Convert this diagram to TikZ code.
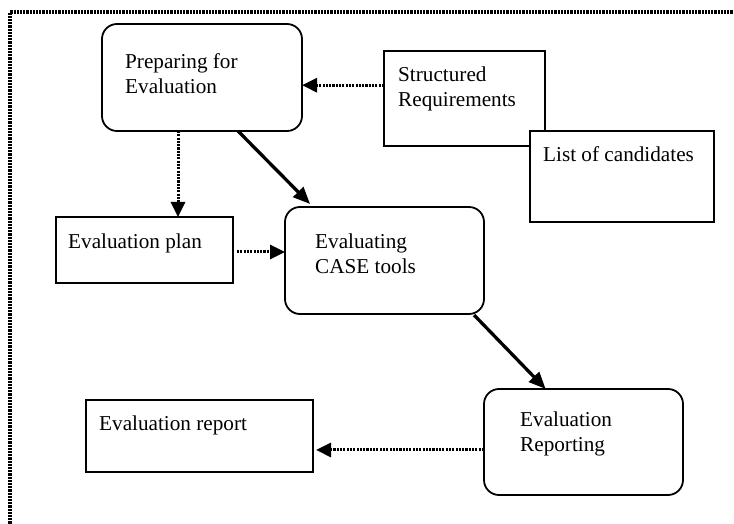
\documentclass[tikz,border=0pt]{standalone}
\usepackage{fontspec}
\setmainfont{Liberation Serif}
\usetikzlibrary{arrows.meta,calc}
\begin{document}
\begin{tikzpicture}[x=1pt,y=-1pt,
  box/.style={draw=black,line width=1.8pt,fill=white,inner sep=0pt,outer sep=0pt,rectangle},
  rbox/.style={box,rounded corners=15pt},
  txt/.style={anchor=base west,inner sep=0pt,align=left,font=\fontsize{21.2}{25}\selectfont},
  dotline/.style={line width=3pt,dash pattern=on 2.1pt off 1.2pt},
  dotarrow/.style={dotline,-{Triangle[length=15pt,width=14pt]}},
  thickarrow/.style={line width=3.3pt,-{Triangle[length=17pt,width=14pt]}},
  frame/.style={line width=3.2pt,dash pattern=on 2.2pt off 1pt}
]
\useasboundingbox (0,0) rectangle (734,524);
\fill[white] (0,0) rectangle (734,524);
% frame
\coordinate (fbl) at (10,530);
\coordinate (ftl) at (10,12);
\coordinate (ftr) at (740,12);
\draw[frame] (fbl) -- (ftl) -- (ftr);
% boxes
\node[rbox,minimum width=200pt,minimum height=107pt] (prep) at (202,77.5) {};
\node[box,minimum width=161pt,minimum height=95pt] (struct) at (464.5,98.5) {};
\node[box,minimum width=184pt,minimum height=91pt] (list) at (622,176.5) {};
\node[box,minimum width=177pt,minimum height=66pt] (plan) at (144.5,250) {};
\node[rbox,minimum width=199pt,minimum height=107pt] (eval) at (384.5,260.5) {};
\node[rbox,minimum width=199pt,minimum height=106pt] (rep) at (583.5,442) {};
\node[box,minimum width=227pt,minimum height=72pt] (report) at (199.5,436) {};
% texts (base anchor = baseline of last line)
\node[txt] (prept) at (125,94) {Preparing for\\Evaluation};
\node[txt] (structt) at (398,107) {Structured\\Requirements};
\node[txt] (listt) at (543,162) {List of candidates};
\node[txt] (plant) at (68,248) {Evaluation plan};
\node[txt] (evalt) at (315,273) {Evaluating\\CASE tools};
\node[txt] (rept) at (520,451) {Evaluation\\Reporting};
\node[txt] (reportt) at (99,430) {Evaluation report};
% connectors
\coordinate (a1) at ($(struct.north west)!0.36!(struct.south west)$);
\draw[dotarrow] (a1) -- (prep.east |- a1);
\coordinate (a2) at ($(prep.south west)!0.38!(prep.south east)$);
\draw[dotarrow] (a2) -- (plan.north -| a2);
\coordinate (a3) at ($(prep.south west)!0.68!(prep.south east)$);
\coordinate (a3e) at ($(eval.north west)!0.126!(eval.north east)$);
\draw[thickarrow] (a3) -- ($(a3e)+(0,-3)$);
\coordinate (a4) at ($(plan.north east)!0.53!(plan.south east)$);
\draw[dotarrow] ($(a4)+(4,0)$) -- (eval.west |- a4);
\coordinate (a5) at ($(eval.south west)!0.95!(eval.south east)$);
\coordinate (a5e) at ($(rep.north west)!0.31!(rep.north east)$);
\draw[thickarrow] ($(a5)+(0,1)$) -- (a5e);
\coordinate (a6) at ($(rep.north west)!0.575!(rep.south west)$);
\draw[dotarrow] (a6) -- ($(report.east |- a6)+(3,0)$);
\end{tikzpicture}
\end{document}
